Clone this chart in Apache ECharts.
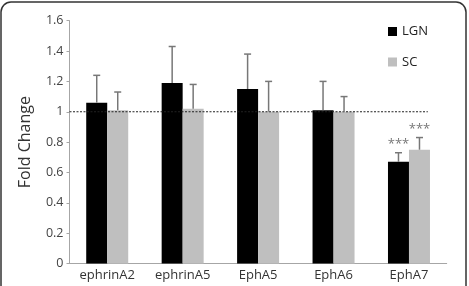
<!DOCTYPE html>
<html>
<head>
<meta charset="utf-8">
<script src="https://cdn.jsdelivr.net/npm/echarts@6/dist/echarts.min.js"></script>
<style>
  html, body { margin: 0; padding: 0; background: #fff; }
  #chart { width: 469px; height: 286px; }
</style>
</head>
<body>
<div id="chart"></div>
<script>
// data
const genes = ['ephrinA2', 'ephrinA5', 'EphA5', 'EphA6', 'EphA7']
const lgn = [1.06, 1.19, 1.15, 1.01, 0.67]
const lgnErr = [0.18, 0.24, 0.23, 0.19, 0.06]
const sc = [1.01, 1.02, 1.00, 1.00, 0.75]
const scErr = [0.12, 0.16, 0.20, 0.10, 0.08]
const lgnSig = ['', '', '', '', '***']
const scSig = ['', '', '', '', '***']
const refX = [0, 4.75]   // dotted reference line, in category units
const refY = 1

const font = '"Open Sans", "Liberation Sans", sans-serif'
const barW = 21

// upper whisker + cap + significance stars
function errorRender(offset) {
  return function (params, api) {
    const i = api.value(0)
    const v = api.value(1)
    const e = api.value(2)
    const sig = api.value(3)
    const base = api.coord([i, v])
    const top = api.coord([i, v + e])
    const x = base[0] + offset
    const children = [
      { type: 'line', shape: { x1: x, y1: base[1], x2: x, y2: top[1] },
        style: { stroke: '#777', lineWidth: 1.5 } },
      { type: 'line', shape: { x1: x - 3.5, y1: top[1], x2: x + 3.5, y2: top[1] },
        style: { stroke: '#777', lineWidth: 1.5 } }
    ]
    if (sig) {
      children.push({ type: 'text', style: {
        text: sig, x: x, y: top[1] - 2, align: 'center', verticalAlign: 'bottom',
        fill: '#777', font: '13px ' + font } })
    }
    return { type: 'group', children }
  }
}

const chart = echarts.init(document.getElementById('chart'))
chart.setOption({
  animation: false,
  graphic: [{
    type: 'rect', shape: { x: 1, y: 2, width: 465, height: 300, r: 10 },
    style: { fill: 'none', stroke: '#333', lineWidth: 1.5 }, silent: true
  }],
  grid: { left: 69.5, right: 22.3, top: 20.7, bottom: 22.5, containLabel: false },
  legend: {
    orient: 'vertical', left: 383, top: 18.5, itemWidth: 9, itemHeight: 9, itemGap: 14.5,
    icon: 'rect',
    textStyle: { fontFamily: font, fontSize: 13, color: '#222', lineHeight: 16 },
    data: ['LGN', 'SC']
  },
  xAxis: [{
    type: 'category', data: genes,
    axisLine: { lineStyle: { color: '#a6a6a6', width: 1 } },
    axisTick: { show: false },
    axisLabel: { fontFamily: font, fontSize: 13, color: '#333', margin: 5 }
  }, {
    type: 'value', min: 0, max: 5, show: false
  }],
  yAxis: {
    type: 'value', min: 0, max: 1.6, interval: 0.2,
    name: 'Fold Change', nameLocation: 'middle', nameGap: 36,
    nameTextStyle: { fontFamily: font, fontSize: 16, color: '#333' },
    axisLine: { show: true, lineStyle: { color: '#a6a6a6', width: 1 } },
    axisTick: { show: true, length: 3, lineStyle: { color: '#a6a6a6' } },
    splitLine: { show: false },
    axisLabel: { fontFamily: font, fontSize: 12.5, color: '#444', margin: 6,
      formatter: v => String(+v.toFixed(1)) }
  },
  series: [{
    name: 'LGN', type: 'bar', data: lgn, barWidth: barW, barGap: '0%',
    itemStyle: { color: '#000' }
  }, {
    name: 'SC', type: 'bar', data: sc, barWidth: barW, barGap: '0%',
    itemStyle: { color: '#bfbfbf' }
  }, {
    type: 'custom', renderItem: errorRender(-barW / 2), z: 5,
    data: genes.map((g, i) => [i, lgn[i], lgnErr[i], lgnSig[i]])
  }, {
    type: 'custom', renderItem: errorRender(barW / 2), z: 5,
    data: genes.map((g, i) => [i, sc[i], scErr[i], scSig[i]])
  }, {
    type: 'line', xAxisIndex: 1, symbol: 'none', z: 4,
    data: refX.map(x => [x, refY]),
    lineStyle: { color: '#222', width: 1, type: [2, 1.5] }
  }]
})
</script>
</body>
</html>
